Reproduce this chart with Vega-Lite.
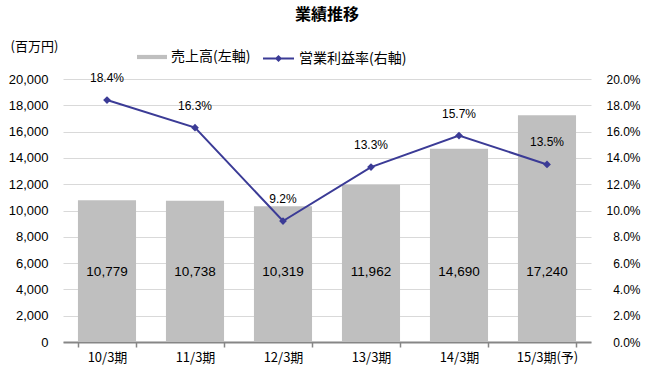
{
  "$schema": "https://vega.github.io/schema/vega-lite/v6.json",
  "width": 528,
  "height": 263,
  "autosize": {"type": "none"},
  "padding": {"left": 63, "top": 79, "right": 60, "bottom": 35},
  "background": "white",
  "title": {"text": "業績推移", "font": "Noto Sans CJK JP", "fontSize": 16, "fontWeight": "bold", "color": "#000000", "anchor": "middle", "frame": "group", "offset": 17},
  "config": {"view": {"stroke": null}},
  "data": {"values": [
    {"period": "10/3期", "sales": 10779, "margin": 0.184},
    {"period": "11/3期", "sales": 10738, "margin": 0.163},
    {"period": "12/3期", "sales": 10319, "margin": 0.092},
    {"period": "13/3期", "sales": 11962, "margin": 0.133},
    {"period": "14/3期", "sales": 14690, "margin": 0.157},
    {"period": "15/3期(予)", "sales": 17240, "margin": 0.135}
  ]},
  "encoding": {
    "x": {"field": "period", "type": "nominal", "sort": null,
      "scale": {"paddingInner": 0.34, "paddingOuter": 0.17},
      "axis": {"title": null, "labelAngle": 0, "labelFont": "Noto Sans CJK JP", "labelFontSize": 13, "labelColor": "#000000", "labelPadding": 4,
        "domainColor": "#868686", "domainWidth": 2, "tickColor": "#868686", "tickBand": "extent", "tickSize": 5, "tickWidth": 1.5, "grid": false}}
  },
  "layer": [
    {
      "mark": {"type": "bar", "color": "#BFBFBF"},
      "encoding": {
        "y": {"field": "sales", "type": "quantitative",
          "scale": {"domain": [0, 20000], "nice": false},
          "axis": {"values": [0,2000,4000,6000,8000,10000,12000,14000,16000,18000,20000], "format": ",d", "labelOverlap": false,
            "title": "(百万円)", "titleAngle": 0, "titleX": -53, "titleY": -33, "titleAlign": "left", "titleBaseline": "middle",
            "titleFont": "Noto Sans CJK JP", "titleFontSize": 13, "titleFontWeight": "normal", "titleColor": "#000000",
            "labelFont": "Liberation Sans", "labelFontSize": 13, "labelColor": "#000000", "labelPadding": 15,
            "domain": false, "ticks": false, "gridColor": "#D9D9D9", "gridWidth": 1}},
        "fill": {"datum": "売上高(左軸)", "type": "nominal",
          "scale": {"range": ["#BFBFBF"]},
          "legend": {"title": null, "orient": "none", "legendX": 74, "legendY": -37, "symbolType": "M-1,-0.14H1V0.14H-1Z", "symbolSize": 900, "symbolStrokeWidth": 0,
            "labelFont": "Noto Sans CJK JP", "labelFontSize": 14, "labelColor": "#000000", "labelOffset": 4}}
      }
    },
    {
      "mark": {"type": "text", "font": "Liberation Sans", "fontSize": 13.5, "color": "#000000", "baseline": "middle"},
      "encoding": {
        "y": {"datum": 5300, "type": "quantitative", "scale": {"domain": [0, 20000], "nice": false}, "axis": null},
        "text": {"field": "sales", "type": "quantitative", "format": ",d"}
      }
    },
    {
      "encoding": {
        "y": {"field": "margin", "type": "quantitative",
          "scale": {"domain": [0, 0.2], "nice": false},
          "axis": {"orient": "right", "values": [0,0.02,0.04,0.06,0.08,0.1,0.12,0.14,0.16,0.18,0.2], "format": ".1%", "title": null, "labelOverlap": false,
            "labelFont": "Liberation Sans", "labelFontSize": 12, "labelColor": "#000000", "labelAlign": "right", "labelPadding": 49,
            "domain": false, "ticks": false, "grid": false}}
      },
      "layer": [
        {
          "mark": {"type": "line", "color": "#3B3B96", "strokeWidth": 2},
          "encoding": {
            "stroke": {"datum": "営業利益率(右軸)", "type": "nominal",
              "scale": {"range": ["#3B3B96"]},
              "legend": {"title": null, "orient": "none", "legendX": 199, "legendY": -37,
                "symbolType": "M-1,0H1M-0.14,0L0,-0.14L0.14,0L0,0.14Z", "symbolSize": 961, "symbolStrokeWidth": 2, "symbolFillColor": "#3B3B96",
                "labelFont": "Noto Sans CJK JP", "labelFontSize": 14, "labelColor": "#000000", "labelOffset": 4}}
          }
        },
        {
          "mark": {"type": "point", "shape": "diamond", "filled": true, "color": "#3B3B96", "size": 60, "opacity": 1}
        },
        {
          "mark": {"type": "text", "font": "Liberation Sans", "fontSize": 12, "color": "#000000", "dy": -22, "baseline": "middle"},
          "encoding": {
            "text": {"field": "margin", "type": "quantitative", "format": ".1%"}
          }
        }
      ]
    }
  ],
  "resolve": {"scale": {"y": "independent", "fill": "independent", "stroke": "independent"}}
}
